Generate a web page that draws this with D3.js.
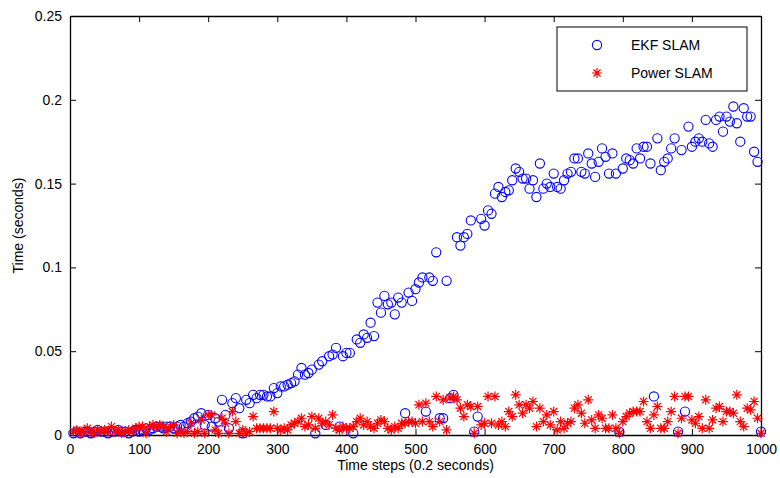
<!DOCTYPE html>
<html>
<head>
<meta charset="utf-8">
<script src="https://cdn.jsdelivr.net/npm/d3@7"></script>
<style>
  html, body { margin: 0; padding: 0; background: #fff; }
  svg { display: block; font-family: "Liberation Sans", Arial, Helvetica, sans-serif; }
</style>
</head>
<body>
<svg id="chart" width="780" height="478"></svg>
<script>
// Time steps at which both timings were recorded (every 5 steps)
const timeSteps = d3.range(5, 1001, 5);

// EKF SLAM update time per step (seconds)
const ekfTimes = [
  0.001,0.002,0.001,0.002,0.002,0.001,0.002,0.003,0.002,0.002,
  0.001,0.002,0.002,0.003,0.002,0.002,0.001,0.002,0.003,0.002,
  0.003,0.004,0.003,0.004,0.005,0.005,0.004,0.005,0.005,0.004,
  0.005,0.006,0.005,0.007,0.008,0.010,0.011,0.013,0.006,0.012,
  0.005,0.010,0.008,0.021,0.012,0.004,0.019,0.022,0.016,0.001,
  0.021,0.019,0.024,0.022,0.024,0.024,0.023,0.023,0.028,0.025,
  0.029,0.029,0.030,0.031,0.032,0.036,0.040,0.036,0.037,0.039,
  0.001,0.042,0.044,0.006,0.047,0.048,0.052,0.005,0.047,0.049,
  0.049,0.001,0.057,0.055,0.060,0.058,0.067,0.059,0.079,0.073,
  0.083,0.078,0.079,0.072,0.082,0.079,0.013,0.085,0.080,0.087,
  0.091,0.094,0.014,0.094,0.092,0.109,0.010,0.010,0.092,0.022,
  0.024,0.118,0.113,0.118,0.120,0.128,0.002,0.011,0.129,0.125,
  0.134,0.132,0.144,0.148,0.142,0.145,0.146,0.152,0.159,0.157,
  0.153,0.153,0.147,0.152,0.142,0.162,0.147,0.150,0.148,0.156,
  0.148,0.147,0.152,0.156,0.157,0.165,0.165,0.157,0.156,0.168,
  0.162,0.154,0.163,0.171,0.166,0.156,0.168,0.156,0.002,0.159,
  0.165,0.164,0.162,0.171,0.165,0.172,0.172,0.162,0.023,0.177,
  0.158,0.163,0.165,0.171,0.177,0.002,0.170,0.014,0.184,0.172,
  0.175,0.177,0.175,0.188,0.174,0.172,0.188,0.190,0.181,0.190,
  0.187,0.196,0.186,0.175,0.195,0.190,0.190,0.169,0.163,0.002
];

// Power SLAM update time per step (seconds)
const powerTimes = [
  0.002,0.003,0.001,0.002,0.004,0.002,0.001,0.003,0.002,0.003,
  0.002,0.005,0.002,0.003,0.001,0.002,0.003,0.002,0.004,0.005,
  0.005,0.001,0.005,0.006,0.005,0.006,0.005,0.002,0.005,0.006,
  0.001,0.002,0.001,0.002,0.007,0.001,0.002,0.009,0.001,0.012,
  0.012,0.003,0.001,0.010,0.007,0.001,0.014,0.008,0.001,0.003,
  0.001,0.002,0.011,0.004,0.004,0.004,0.004,0.004,0.014,0.004,
  0.003,0.004,0.003,0.006,0.007,0.008,0.010,0.005,0.006,0.011,
  0.004,0.010,0.007,0.008,0.006,0.012,0.004,0.003,0.005,0.004,
  0.004,0.005,0.008,0.010,0.006,0.008,0.005,0.004,0.007,0.009,
  0.008,0.004,0.003,0.005,0.004,0.007,0.007,0.008,0.008,0.007,
  0.018,0.008,0.019,0.008,0.005,0.023,0.008,0.021,0.003,0.022,
  0.023,0.021,0.016,0.011,0.018,0.017,0.001,0.017,0.006,0.007,
  0.023,0.007,0.023,0.006,0.008,0.005,0.014,0.011,0.024,0.018,
  0.013,0.018,0.016,0.020,0.005,0.016,0.008,0.012,0.006,0.014,
  0.003,0.008,0.004,0.007,0.008,0.016,0.018,0.013,0.007,0.021,
  0.009,0.004,0.012,0.010,0.004,0.004,0.012,0.004,0.001,0.008,
  0.011,0.013,0.014,0.014,0.014,0.020,0.008,0.004,0.012,0.017,
  0.004,0.004,0.008,0.014,0.023,0.001,0.010,0.023,0.023,0.009,
  0.007,0.011,0.004,0.021,0.004,0.009,0.016,0.017,0.008,0.014,
  0.014,0.013,0.024,0.008,0.005,0.016,0.015,0.020,0.010,0.001
];

const xTicks = [0, 100, 200, 300, 400, 500, 600, 700, 800, 900, 1000];
const yTicks = [0, 0.05, 0.1, 0.15, 0.2, 0.25];
const seriesNames = ["EKF SLAM", "Power SLAM"];

const svg = d3.select("#chart");
const plot = { left: 70, right: 761, top: 16, bottom: 435 };

const x = d3.scaleLinear().domain([0, 1000]).range([plot.left, plot.right]);
const y = d3.scaleLinear().domain([0, 0.25]).range([plot.bottom, plot.top]);

const fmtY = d => (d === 0 ? "0" : String(+d.toFixed(2)));
const tickLen = 6;
const circleR = 4.6;
const starR = 5;

// Axes: ticks point inward, box closed on all sides
const gBottom = svg.append("g").attr("transform", `translate(0,${plot.bottom})`)
  .call(d3.axisBottom(x).tickValues(xTicks).tickSizeInner(-tickLen).tickSizeOuter(0).tickPadding(9).tickFormat(d3.format("d")));
const gTop = svg.append("g").attr("transform", `translate(0,${plot.top})`)
  .call(d3.axisTop(x).tickValues(xTicks).tickSizeInner(-tickLen).tickSizeOuter(0).tickFormat(""));
const gLeft = svg.append("g").attr("transform", `translate(${plot.left},0)`)
  .call(d3.axisLeft(y).tickValues(yTicks).tickSizeInner(-tickLen).tickSizeOuter(0).tickPadding(8).tickFormat(fmtY));
const gRight = svg.append("g").attr("transform", `translate(${plot.right},0)`)
  .call(d3.axisRight(y).tickValues(yTicks).tickSizeInner(-tickLen).tickSizeOuter(0).tickFormat(""));

[gBottom, gTop, gLeft, gRight].forEach(g => {
  g.select(".domain").attr("stroke", "#000").attr("stroke-width", 1.3);
  g.selectAll(".tick line").attr("stroke", "#000").attr("stroke-width", 1);
  g.selectAll(".tick text").attr("fill", "#000").style("font-size", "14px")
    .style("font-family", '"Liberation Sans", Arial, Helvetica, sans-serif');
});

// Axis titles
svg.append("text")
  .attr("x", (plot.left + plot.right) / 2).attr("y", 470)
  .attr("text-anchor", "middle").style("font-size", "14px")
  .text("Time steps (0.2 seconds)");
svg.append("text")
  .attr("transform", `translate(23,${(plot.top + plot.bottom) / 2}) rotate(-90)`)
  .attr("text-anchor", "middle").style("font-size", "14px")
  .text("Time (seconds)");

// Asterisk marker path centred on 0,0
function starPath(r) {
  const d = r * Math.SQRT1_2;
  return `M${-r},0L${r},0M0,${-r}L0,${r}M${-d},${-d}L${d},${d}M${-d},${d}L${d},${-d}`;
}

const ekfData = timeSteps.map((t, i) => ({ t, v: ekfTimes[i] }));
const powerData = timeSteps.map((t, i) => ({ t, v: powerTimes[i] }));

svg.append("g").selectAll("circle").data(ekfData).join("circle")
  .attr("cx", d => x(d.t)).attr("cy", d => y(d.v)).attr("r", circleR)
  .attr("fill", "none").attr("stroke", "#0000ff").attr("stroke-width", 1.1);

svg.append("g").selectAll("path").data(powerData).join("path")
  .attr("transform", d => `translate(${x(d.t)},${y(d.v)})`)
  .attr("d", starPath(starR))
  .attr("fill", "none").attr("stroke", "#ff0000").attr("stroke-width", 1.2);

// Legend
const lg = svg.append("g");
lg.append("rect").attr("x", 557).attr("y", 27).attr("width", 190).attr("height", 64)
  .attr("fill", "#fff").attr("stroke", "#000").attr("stroke-width", 1);
lg.append("circle").attr("cx", 597).attr("cy", 45).attr("r", circleR)
  .attr("fill", "none").attr("stroke", "#0000ff").attr("stroke-width", 1.1);
lg.append("path").attr("transform", "translate(597,73)").attr("d", starPath(starR))
  .attr("fill", "none").attr("stroke", "#ff0000").attr("stroke-width", 1.2);
lg.append("text").attr("x", 631).attr("y", 50).style("font-size", "14px").text(seriesNames[0]);
lg.append("text").attr("x", 631).attr("y", 78).style("font-size", "14px").text(seriesNames[1]);
</script>
</body>
</html>
